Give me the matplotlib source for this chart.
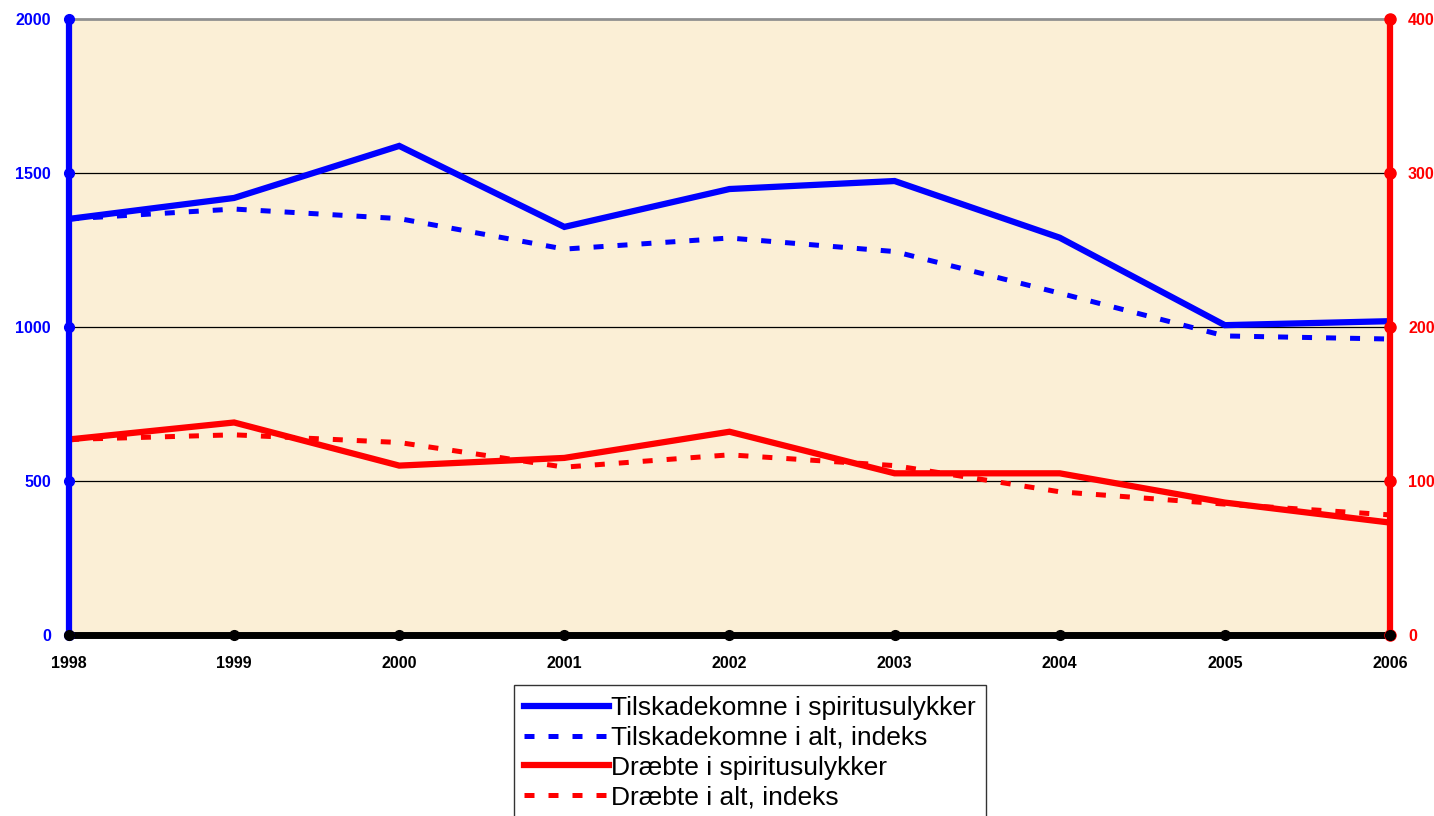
import matplotlib
matplotlib.use("Agg")
import matplotlib.pyplot as plt

years = [1998, 1999, 2000, 2001, 2002, 2003, 2004, 2005, 2006]
injured_drunk = [1351, 1419, 1588, 1325, 1448, 1474, 1290, 1006, 1019]
injured_index = [1351, 1383, 1352, 1253, 1289, 1245, 1110, 971, 961]
killed_drunk = [127, 138, 110, 115, 132, 105, 105, 86, 73]
killed_index = [127, 130, 125, 109, 117, 110, 93, 85, 78]

left_ticks = [0, 500, 1000, 1500, 2000]
right_ticks = [0, 100, 200, 300, 400]

labels = ["Tilskadekomne i spiritusulykker", "Tilskadekomne i alt, indeks",
          "Dræbte i spiritusulykker", "Dræbte i alt, indeks"]

plt.rcParams['font.family'] = ['Liberation Sans', 'DejaVu Sans']

fig = plt.figure(figsize=(14.34, 8.16), dpi=100)
ax = fig.add_axes([0.0481, 0.2218, 0.9212, 0.7549])
ax.set_facecolor('#FBEFD6')
ax2 = ax.twinx()

l1, = ax.plot(years, injured_drunk, color='#0000FF', lw=4.5, solid_joinstyle='miter', zorder=3)
l2, = ax.plot(years, injured_index, color='#0000FF', lw=3.6, dashes=(2.0, 2.8), dash_capstyle='butt', zorder=3)
l3, = ax2.plot(years, killed_drunk, color='#FF0000', lw=4.5, solid_joinstyle='miter', zorder=3)
l4, = ax2.plot(years, killed_index, color='#FF0000', lw=3.6, dashes=(2.0, 2.8), dash_capstyle='butt', zorder=3)

ax.set_xlim(years[0], years[-1])
ax.set_ylim(0, 2000)
ax2.set_ylim(0, 400)
ax.set_xticks(years)
ax.set_yticks(left_ticks)
ax2.set_yticks(right_ticks)

for t in left_ticks[1:4]:
    ax.axhline(t, color='black', lw=0.9, zorder=1)

# spines
for s in ax.spines.values():
    s.set_visible(False)
for s in ax2.spines.values():
    s.set_visible(False)
ax2.spines['left'].set_visible(True)
ax2.spines['left'].set_color('#0000FF')
ax2.spines['left'].set_linewidth(4.5)
ax2.spines['right'].set_visible(True)
ax2.spines['right'].set_color('#FF0000')
ax2.spines['right'].set_linewidth(4.5)
ax2.spines['bottom'].set_visible(True)
ax2.spines['bottom'].set_color('black')
ax2.spines['bottom'].set_linewidth(5)
ax2.spines['top'].set_visible(True)
ax2.spines['top'].set_color('#909090')
ax2.spines['top'].set_linewidth(2)
for sp in ['left', 'right', 'bottom', 'top']:
    ax2.spines[sp].set_zorder(5)

ax.tick_params(axis='both', length=0)
ax2.tick_params(axis='both', length=0)
ax.tick_params(axis='y', pad=13, labelcolor='#0000FF')
ax2.tick_params(axis='y', pad=13, labelcolor='#FF0000')
ax.tick_params(axis='x', pad=15, labelcolor='black')
for lab in ax.get_yticklabels():
    lab.set_fontweight('bold'); lab.set_fontsize(11.5)
for lab in ax2.get_yticklabels():
    lab.set_fontweight('bold'); lab.set_fontsize(11.5)
for lab in ax.get_xticklabels():
    lab.set_fontweight('bold'); lab.set_fontsize(11.5)

# dot tick markers
ax2.plot([0] * len(left_ticks), [t / 5 for t in left_ticks], 'o', color='#0000FF', ms=7,
         transform=ax2.get_yaxis_transform(), clip_on=False, zorder=6)
ax2.plot([1] * len(right_ticks), right_ticks, 'o', color='#FF0000', ms=8,
         transform=ax2.get_yaxis_transform(), clip_on=False, zorder=6)
ax2.plot(years, [0] * len(years), 'o', color='black', ms=7,
         transform=ax2.get_xaxis_transform(), clip_on=False, zorder=6)

leg = fig.legend([l1, l2, l3, l4], labels, loc='upper center',
                 bbox_to_anchor=(0.523, 0.16), fontsize=19, frameon=True,
                 fancybox=False, edgecolor='black', handlelength=3.2,
                 handletextpad=0.1, labelspacing=0.22, borderpad=0.4,
                 borderaxespad=0)
leg.get_frame().set_linewidth(1.0)

fig.savefig('out.png', dpi=100)
